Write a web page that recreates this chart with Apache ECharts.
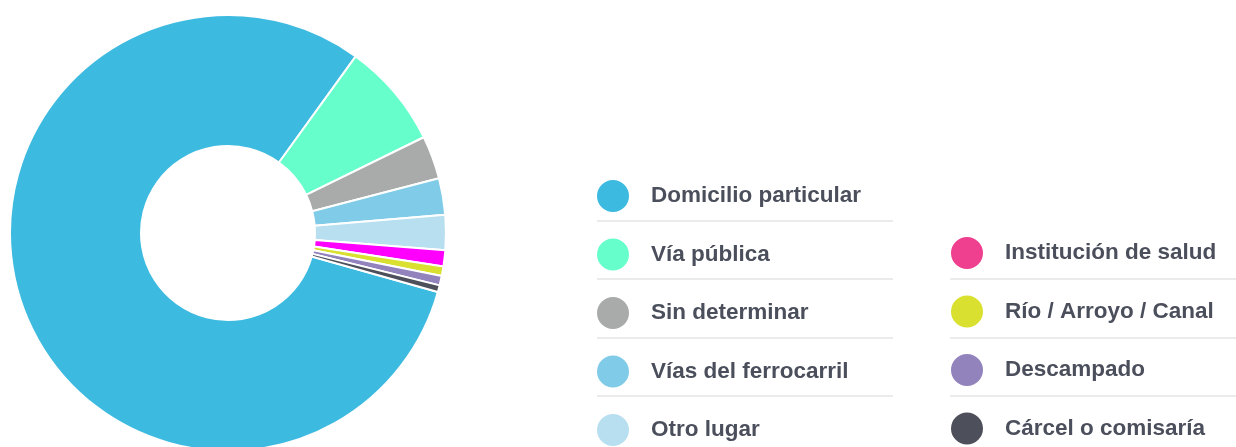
<!DOCTYPE html>
<html>
<head>
<meta charset="utf-8">
<script src="https://cdn.jsdelivr.net/npm/echarts@6/dist/echarts.min.js"></script>
<style>
  html, body { margin: 0; padding: 0; background: #fff; }
  #chart { width: 1236px; height: 447px; }
</style>
</head>
<body>
<div id="chart"></div>
<script>
// datos: lugar del hecho (porcentaje)
const lugares = [
  'Domicilio particular', 'Vía pública', 'Sin determinar', 'Vías del ferrocarril', 'Otro lugar',
  'Institución de salud', 'Río / Arroyo / Canal', 'Descampado', 'Cárcel o comisaría'
]
const valores = [80.6, 7.8, 3.2, 2.7, 2.6, 1.2, 0.7, 0.7, 0.5]
const coloresSlice = ['#3cbae0', '#66ffcc', '#a9aaaa', '#80cbe8', '#b8dff0', '#ff00ff', '#d9e030', '#9283bd', '#4d505b']
const coloresLeyenda = ['#3cbae0', '#66ffcc', '#a9aaaa', '#80cbe8', '#b8dff0', '#ef3f8f', '#d9e030', '#9283bd', '#4d505b']

const chart = echarts.init(document.getElementById('chart'))

const legendBase = {
  orient: 'vertical',
  icon: 'circle',
  itemWidth: 34,
  itemHeight: 34,
  itemGap: 22.5,
  padding: 0,
  height: 320,
  selectedMode: false,
  textStyle: {
    fontFamily: 'Liberation Sans, Arial, sans-serif',
    fontWeight: 'bold',
    fontSize: 22.5,
    lineHeight: 32,
    color: '#4b4f5c',
    padding: [0, 0, 0, 16]
  }
}
const legendData = (from, to) => lugares.slice(from, to).map((n, i) => ({
  name: n,
  itemStyle: { color: coloresLeyenda[from + i] }
}))

// lineas separadoras de la leyenda
const sepCol1 = [221, 279, 338, 396]
const sepCol2 = [279, 338, 396]
const graphics = []
sepCol1.forEach((y) => graphics.push({
  type: 'line', shape: { x1: 597, y1: y, x2: 893, y2: y },
  style: { stroke: '#e4e4e4', lineWidth: 1.5 }
}))
sepCol2.forEach((y) => graphics.push({
  type: 'line', shape: { x1: 950, y1: y, x2: 1236, y2: y },
  style: { stroke: '#e4e4e4', lineWidth: 1.5 }
}))

chart.setOption({
  animation: false,
  legend: [
    Object.assign({}, legendBase, { left: 595, top: 178, data: legendData(0, 5) }),
    Object.assign({}, legendBase, { left: 949, top: 235, data: legendData(5, 9) })
  ],
  graphic: graphics,
  series: [{
    type: 'pie',
    center: [228, 233],
    radius: [87, 218],
    startAngle: -15.7,
    clockwise: true,
    label: { show: false },
    labelLine: { show: false },
    emphasis: { disabled: true },
    itemStyle: { borderColor: '#fff', borderWidth: 2 },
    data: lugares.map((n, i) => ({ name: n, value: valores[i], itemStyle: { color: coloresSlice[i] } }))
  }]
})
</script>
</body>
</html>
